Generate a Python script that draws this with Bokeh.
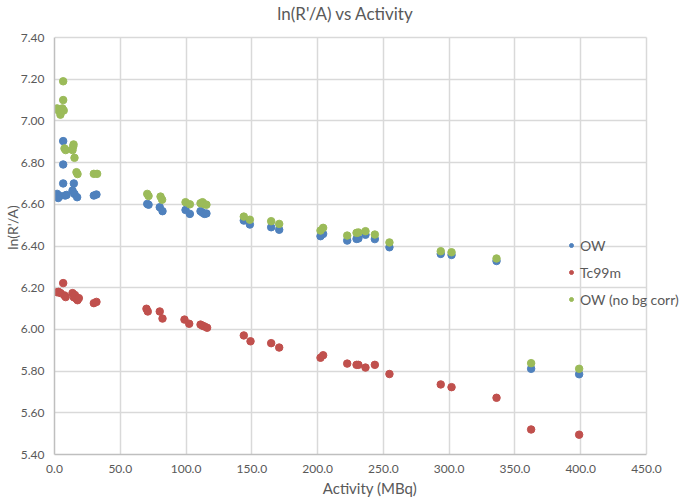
from bokeh.plotting import figure
from bokeh.models import (Legend, LegendItem, FixedTicker, NumeralTickFormatter,
                          Range1d, ColumnDataSource, Label)
from bokeh.embed import file_html
from bokeh.resources import INLINE

# ---- data ----
x_ticks = [0, 50, 100, 150, 200, 250, 300, 350, 400, 450]
y_ticks = [5.4, 5.6, 5.8, 6.0, 6.2, 6.4, 6.6, 6.8, 7.0, 7.2, 7.4]

ow_activity = [2.0, 2.8, 4.2, 6.6, 6.6, 6.6, 8.1, 9.2, 14.7, 13.7, 15.2, 17.2,
               29.9, 31.9, 70.5, 71.5, 80.0, 82.1, 99.6, 102.9, 111.0, 112.5,
               114.0, 115.5, 143.9, 148.5, 164.7, 170.8, 202.2, 204.2, 222.5,
               229.6, 231.0, 236.4, 243.5, 254.6, 293.6, 301.8, 336.0, 362.3, 398.8]
ow_lnra = [6.650, 6.630, 6.640, 6.903, 6.791, 6.700, 6.642, 6.645, 6.700, 6.666,
           6.650, 6.634, 6.642, 6.647, 6.602, 6.598, 6.586, 6.567, 6.573, 6.554,
           6.567, 6.560, 6.554, 6.556, 6.522, 6.503, 6.490, 6.478, 6.447, 6.458,
           6.426, 6.434, 6.436, 6.454, 6.433, 6.394, 6.362, 6.357, 6.328, 5.811, 5.785]

tc_activity = [2.0, 3.0, 4.6, 6.6, 7.6, 8.5, 13.7, 14.7, 15.5, 16.7, 17.5, 18.5,
               29.9, 31.9, 69.9, 70.9, 80.0, 82.1, 98.8, 102.4, 111.0, 112.5,
               114.0, 116.0, 143.9, 149.0, 164.7, 170.8, 202.2, 204.2, 222.5,
               229.6, 231.0, 236.4, 243.5, 254.6, 293.6, 301.8, 336.0, 362.3, 398.8]
tc_lnra = [6.178, 6.180, 6.174, 6.222, 6.163, 6.155, 6.174, 6.154, 6.165, 6.147,
           6.140, 6.150, 6.126, 6.132, 6.099, 6.086, 6.086, 6.052, 6.047, 6.027,
           6.023, 6.018, 6.014, 6.008, 5.971, 5.943, 5.934, 5.913, 5.864, 5.876,
           5.836, 5.830, 5.830, 5.817, 5.830, 5.786, 5.736, 5.723, 5.672, 5.520, 5.495]

nobg_activity = [2.0, 3.0, 4.5, 6.0, 7.0, 6.6, 6.6, 7.6, 8.5, 14.2, 14.5, 13.7,
                 15.2, 16.7, 17.5, 29.9, 32.4, 70.5, 71.5, 80.6, 81.8, 99.6, 102.9,
                 111.0, 112.5, 114.0, 115.5, 143.9, 148.5, 164.7, 170.8, 202.2,
                 204.2, 222.5, 229.6, 231.0, 236.4, 243.5, 254.6, 293.6, 301.8,
                 336.0, 362.3, 398.8]
nobg_lnra = [7.060, 7.050, 7.030, 7.060, 7.050, 7.190, 7.100, 6.868, 6.860, 6.877,
             6.887, 6.860, 6.823, 6.754, 6.745, 6.746, 6.746, 6.650, 6.640, 6.637,
             6.622, 6.610, 6.600, 6.605, 6.610, 6.600, 6.598, 6.541, 6.526, 6.519,
             6.506, 6.474, 6.487, 6.450, 6.463, 6.465, 6.471, 6.455, 6.417, 6.375,
             6.370, 6.340, 5.838, 5.811]

series_names = ["OW", "Tc99m", "OW (no bg corr)"]
series_colors = ["#4F81BD", "#C0504D", "#9BBB59"]
title_text = "ln(R'/A) vs Activity"

FONT = "Lato"
GREY = "#595959"
GRID = "#d9d9d9"

W, H = 685, 499
LEFT, BOTTOM = 54, 45
PLOT_TOP = 37                        # top of the gridded area in the reference
frame_w = W - LEFT
frame_h = H - BOTTOM
px_per_x = 592 / 450.0               # 450 MBq spans 592 px
px_per_y = (frame_h - PLOT_TOP) / 2.0  # 2.0 units span 417 px
x_end = frame_w / px_per_x           # frame runs past 450 to hold the legend
y_end = 5.4 + frame_h / px_per_y     # and above 7.40 to hold the title

p = figure(width=W, height=H, output_backend="svg", toolbar_location=None,
           x_range=Range1d(0, x_end), y_range=Range1d(5.4, y_end),
           min_border_left=LEFT, min_border_right=0, min_border_top=0,
           min_border_bottom=BOTTOM)
p.title = None

# axes
p.xaxis.ticker = FixedTicker(ticks=x_ticks)
p.yaxis.ticker = FixedTicker(ticks=y_ticks)
p.xaxis.formatter = NumeralTickFormatter(format="0.0")
p.yaxis.formatter = NumeralTickFormatter(format="0.00")
p.xaxis.bounds = (x_ticks[0], x_ticks[-1])
p.yaxis.bounds = (y_ticks[0], y_ticks[-1])
for ax in (p.xaxis, p.yaxis):
    ax.major_tick_line_color = None
    ax.minor_tick_line_color = None
    ax.major_tick_out = 0
    ax.major_tick_in = 0
    ax.minor_tick_out = 0
    ax.minor_tick_in = 0
    ax.axis_line_color = "#bfbfbf"
    ax.axis_line_width = 1.5
    ax.major_label_text_font = FONT
    ax.major_label_text_font_size = "12px"
    ax.major_label_text_color = GREY
    ax.axis_label_text_font = FONT
    ax.axis_label_text_font_style = "normal"
    ax.axis_label_text_color = GREY
p.xaxis.axis_label = "Activity (MBq)"
p.yaxis.axis_label = "ln(R'/A)"
p.xaxis.axis_label_text_font_size = "15px"
p.yaxis.axis_label_text_font_size = "14px"
p.xaxis.major_label_standoff = 10
p.yaxis.major_label_standoff = 10
p.xaxis.axis_label_standoff = 3
p.yaxis.axis_label_standoff = -3

# grid: lines confined to the 0..450 x 5.40..7.40 box
p.xgrid.ticker = FixedTicker(ticks=x_ticks)
p.ygrid.ticker = FixedTicker(ticks=y_ticks)
p.grid.grid_line_color = GRID
p.grid.grid_line_width = 1.5
try:
    p.xgrid.cross_bounds = (y_ticks[0], y_ticks[-1])
    p.ygrid.cross_bounds = (x_ticks[0], x_ticks[-1])
except Exception:
    p.xgrid.visible = False
    p.segment(x0=x_ticks, x1=x_ticks, y0=[y_ticks[0]] * len(x_ticks),
              y1=[y_ticks[-1]] * len(x_ticks), line_color=GRID, line_width=1.5,
              level="underlay")
p.outline_line_color = None

renderers = []
for xs, ys, c in [(ow_activity, ow_lnra, series_colors[0]),
                  (tc_activity, tc_lnra, series_colors[1]),
                  (nobg_activity, nobg_lnra, series_colors[2])]:
    src = ColumnDataSource(dict(x=xs, y=ys))
    r = p.scatter("x", "y", source=src, size=7.5, fill_color=c, line_color=c)
    renderers.append(r)

# title, drawn inside the (extended) frame
p.add_layout(Label(x=345 - LEFT, y=frame_h - 13, x_units="screen", y_units="screen",
                   text=title_text, text_font=FONT, text_font_size="17px",
                   text_color=GREY, text_align="center", text_baseline="middle"))

legend = Legend(items=[LegendItem(label=n, renderers=[r])
                       for n, r in zip(series_names, renderers)],
                location=(512, 145), padding=0, spacing=7, glyph_width=10,
                glyph_height=20, label_standoff=4, label_text_font=FONT,
                label_text_font_size="14px", label_text_color=GREY,
                background_fill_alpha=0, border_line_alpha=0, margin=0)
p.add_layout(legend, "center")

open("out.html", "w").write(file_html(p, INLINE))
